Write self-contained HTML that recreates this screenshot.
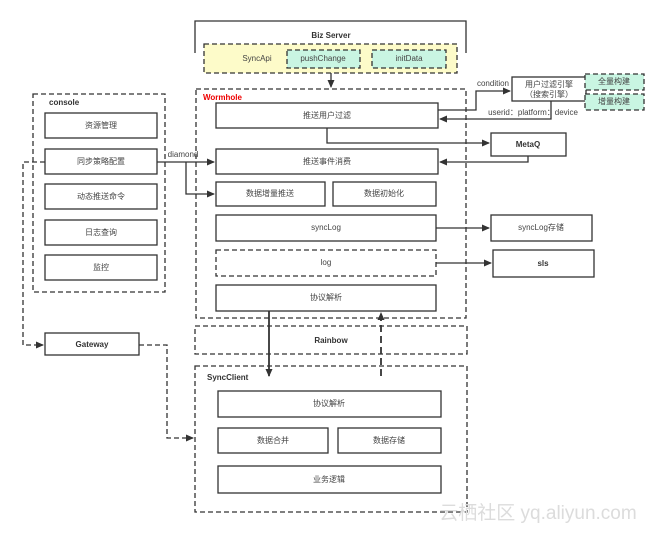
<!DOCTYPE html>
<html><head><meta charset="utf-8"><style>
html,body{margin:0;padding:0;background:#fff;}
svg{display:block;}
text{font-family:"Liberation Sans","Noto Sans CJK SC",sans-serif;font-size:8px;fill:#444;text-anchor:middle;dominant-baseline:middle;}
.b{font-weight:bold;fill:#333;}
</style></head><body>
<svg width="658" height="534" viewBox="0 0 658 534" xmlns="http://www.w3.org/2000/svg">
<defs><marker id="a" markerWidth="8" markerHeight="8" refX="7" refY="4" orient="auto" markerUnits="userSpaceOnUse"><path d="M0,0.5 L8,4 L0,7.5z" fill="#333"/></marker></defs>
<g fill="none" stroke="#333" stroke-width="1.3">
<path d="M195,53 V21 H466 V53"/>
<rect x="204" y="44" width="253" height="29" fill="#fdfbc9" stroke-dasharray="5,3"/>
<rect x="287" y="50" width="73" height="18" fill="#c9f5e2" stroke-dasharray="5,3"/>
<rect x="372" y="50" width="74" height="18" fill="#c9f5e2" stroke-dasharray="5,3"/>
<path d="M331,73 V87" marker-end="url(#a)"/>
<rect x="196" y="89" width="270" height="229" stroke-dasharray="5,3"/>
<rect x="216" y="103" width="222" height="25"/>
<rect x="216" y="149" width="222" height="25"/>
<rect x="216" y="182" width="109" height="24"/>
<rect x="333" y="182" width="103" height="24"/>
<rect x="216" y="215" width="220" height="26"/>
<rect x="216" y="250" width="220" height="26" stroke-dasharray="5,3"/>
<rect x="216" y="285" width="220" height="26"/>
<rect x="512" y="77" width="74" height="24"/>
<rect x="585" y="74" width="59" height="16" fill="#c9f5e2" stroke-dasharray="5,3"/>
<rect x="585" y="94" width="59" height="16" fill="#c9f5e2" stroke-dasharray="5,3"/>
<path d="M438,110 H476 V91 H510" marker-end="url(#a)"/>
<path d="M551,101 V119 H440" marker-end="url(#a)"/>
<rect x="491" y="133" width="75" height="23"/>
<path d="M327,128 V143 H489" marker-end="url(#a)"/>
<path d="M528,156 V162 H440" marker-end="url(#a)"/>
<rect x="491" y="215" width="101" height="26"/>
<path d="M436,228 H489" marker-end="url(#a)"/>
<rect x="493" y="250" width="101" height="27"/>
<path d="M436,263 H491" marker-end="url(#a)"/>
<rect x="195" y="326" width="272" height="28" stroke-dasharray="5,3"/>
<rect x="195" y="366" width="272" height="146" stroke-dasharray="5,3"/>
<rect x="218" y="391" width="223" height="26"/>
<rect x="218" y="428" width="110" height="25"/>
<rect x="338" y="428" width="103" height="25"/>
<rect x="218" y="466" width="223" height="27"/>
<path d="M269,311 V376" stroke-width="1.8" marker-end="url(#a)"/>
<path d="M381,376 V313" stroke-width="1.8" stroke-dasharray="7,4" marker-end="url(#a)"/>
<rect x="33" y="94" width="132" height="198" stroke-dasharray="5,3"/>
<rect x="45" y="113" width="112" height="25"/>
<rect x="45" y="149" width="112" height="25"/>
<rect x="45" y="184" width="112" height="25"/>
<rect x="45" y="220" width="112" height="25"/>
<rect x="45" y="255" width="112" height="25"/>
<path d="M157,162 H214" marker-end="url(#a)"/>
<path d="M186,162 V194 H214" marker-end="url(#a)"/>
<rect x="45" y="333" width="94" height="22"/>
<path d="M45,162 H23 V345 H43" stroke-dasharray="5,3" marker-end="url(#a)"/>
<path d="M139,345 H167 V438 H193" stroke-dasharray="5,3" marker-end="url(#a)"/>
</g>
<text x="331" y="36" class="b">Biz Server</text>
<text x="257" y="59">SyncApi</text>
<text x="323" y="59">pushChange</text>
<text x="409" y="59">initData</text>
<text x="203" y="98" class="b" style="fill:#e00;text-anchor:start">Wormhole</text>
<text x="327" y="116">推送用户过滤</text>
<text x="327" y="162">推送事件消费</text>
<text x="270" y="194">数据增量推送</text>
<text x="384" y="194">数据初始化</text>
<text x="326" y="228">syncLog</text>
<text x="326" y="263">log</text>
<text x="326" y="298">协议解析</text>
<text x="549" y="85">用户过滤引擎</text>
<text x="549" y="95">（搜索引擎）</text>
<text x="614" y="82">全量构建</text>
<text x="614" y="102">增量构建</text>
<text x="493" y="84">condition</text>
<text x="533" y="113">userid：platform：device</text>
<text x="528" y="145" class="b">MetaQ</text>
<text x="541" y="228">syncLog存储</text>
<text x="543" y="264" class="b">sls</text>
<text x="331" y="341" class="b">Rainbow</text>
<text x="207" y="378" class="b" style="text-anchor:start">SyncClient</text>
<text x="329" y="404">协议解析</text>
<text x="273" y="441">数据合并</text>
<text x="389" y="441">数据存储</text>
<text x="329" y="480">业务逻辑</text>
<text x="49" y="103" class="b" style="text-anchor:start">console</text>
<text x="101" y="126">资源管理</text>
<text x="101" y="162">同步策略配置</text>
<text x="101" y="197">动态推送命令</text>
<text x="101" y="233">日志查询</text>
<text x="101" y="268">监控</text>
<text x="183" y="155">diamond</text>
<text x="92" y="345" class="b">Gateway</text>
<text x="538" y="514" style="font-size:19px;fill:#dcdcdc">云栖社区 yq.aliyun.com</text>
</svg>
</body></html>
